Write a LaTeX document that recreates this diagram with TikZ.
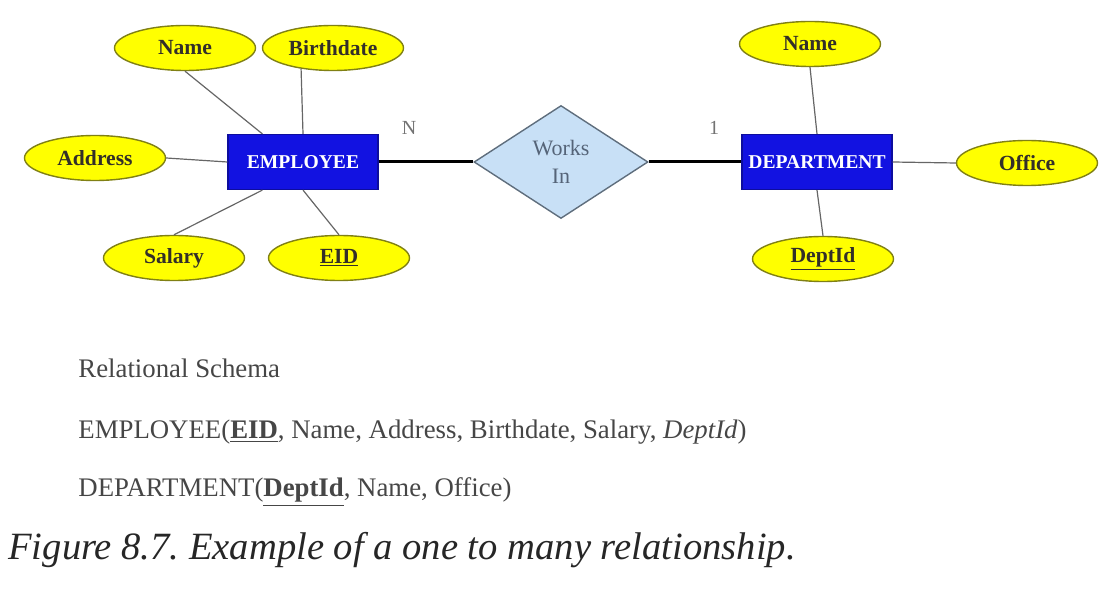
\documentclass[tikz,border=0pt]{standalone}
\usepackage{fontspec}
\setmainfont{Liberation Serif}
\usetikzlibrary{shapes.geometric}
\frenchspacing

\definecolor{attrfill}{RGB}{255,255,0}
\definecolor{attrline}{RGB}{128,128,20}
\definecolor{entfill}{RGB}{18,18,225}
\definecolor{relfill}{RGB}{200,224,246}
\definecolor{relline}{RGB}{95,110,125}
\definecolor{reltext}{RGB}{85,100,120}
\definecolor{schematext}{RGB}{70,70,70}

\tikzset{
  attr/.style={draw=attrline, line width=0.7pt, fill=attrfill, ellipse, minimum width=70.5pt, minimum height=22.5pt, inner sep=0pt, text=black!85!olive, font=\fontsize{10.8}{12}\selectfont\bfseries},
  entity/.style={draw=entfill!70!black, line width=0.6pt, fill=entfill, minimum width=75pt, minimum height=27.5pt, inner sep=0pt, text=white, font=\fontsize{9.8}{11}\selectfont\bfseries},
  rel/.style={draw=relline, line width=0.7pt, fill=relfill, diamond, minimum width=87pt, minimum height=56.5pt, inner sep=0pt, align=center, text=reltext, font=\fontsize{11}{14}\selectfont},
  attrlink/.style={draw=black!60, line width=0.6pt},
  schema/.style={anchor=west, inner sep=0pt, text=schematext, font=\fontsize{13.4}{16}\selectfont}
}

\begin{document}
\begin{tikzpicture}[x=0.5pt, y=-0.5pt]
\useasboundingbox (0,0) rectangle (1102,608);

\node[entity] (emp) at (303, 162) {EMPLOYEE};
\node[entity] (dept) at (817, 162) {DEPARTMENT};
\node[rel] (works) at (561, 162) {Works\\In};

\node[attr] (ename) at (185, 48) {Name};
\node[attr] (bdate) at (333, 48) {Birthdate};
\node[attr] (addr) at (95, 158) {Address};
\node[attr] (salary) at (174, 258) {Salary};
\node[attr] (eid) at (339, 258) {\underline{EID}};

\node[attr] (dname) at (810, 44) {Name};
\node[attr] (office) at (1027, 163) {Office};
\node[attr] (deptid) at (823, 259) {\underline{DeptId}};

% attribute links
\draw[attrlink] (ename.south) -- ([xshift=17.5pt]emp.north west);
\draw[attrlink] (bdate.213) -- (emp.north);
\draw[attrlink] (addr.east) -- (emp.west);
\draw[attrlink] (salary.north) -- ([xshift=17.5pt]emp.south west);
\draw[attrlink] (eid.north) -- (emp.south);
\draw[attrlink] (dname.south) -- (dept.north);
\draw[attrlink] (dept.east) -- (office.west);
\draw[attrlink] (dept.south) -- (deptid.north);

% relationship
\draw[line width=1.5pt] (emp.east) -- (works.west);
\draw[line width=1.5pt] (works.east) -- (dept.west);
\node[text=black!55, font=\fontsize{10}{12}\selectfont] (many) at (409, 128) {N};
\node[text=black!55, font=\fontsize{10}{12}\selectfont] (one) at (714, 128) {1};

% relational schema
\node[schema] (title) at (78, 368) {Relational Schema};
\node[schema] (emprow) at (78, 432) {EMPLOYEE(\underline{\textbf{EID}}, Name, Address, Birthdate, Salary, \textit{DeptId})};
\node[schema] (deptrow) at (78, 492) {DEPARTMENT(\underline{\textbf{DeptId}}, Name, Office)};

\node[anchor=west, inner sep=0pt, text=black!85, font=\fontsize{19.3}{22}\selectfont\itshape] (caption) at (8, 550) {Figure 8.7. Example of a one to many relationship.};
\end{tikzpicture}
\end{document}
